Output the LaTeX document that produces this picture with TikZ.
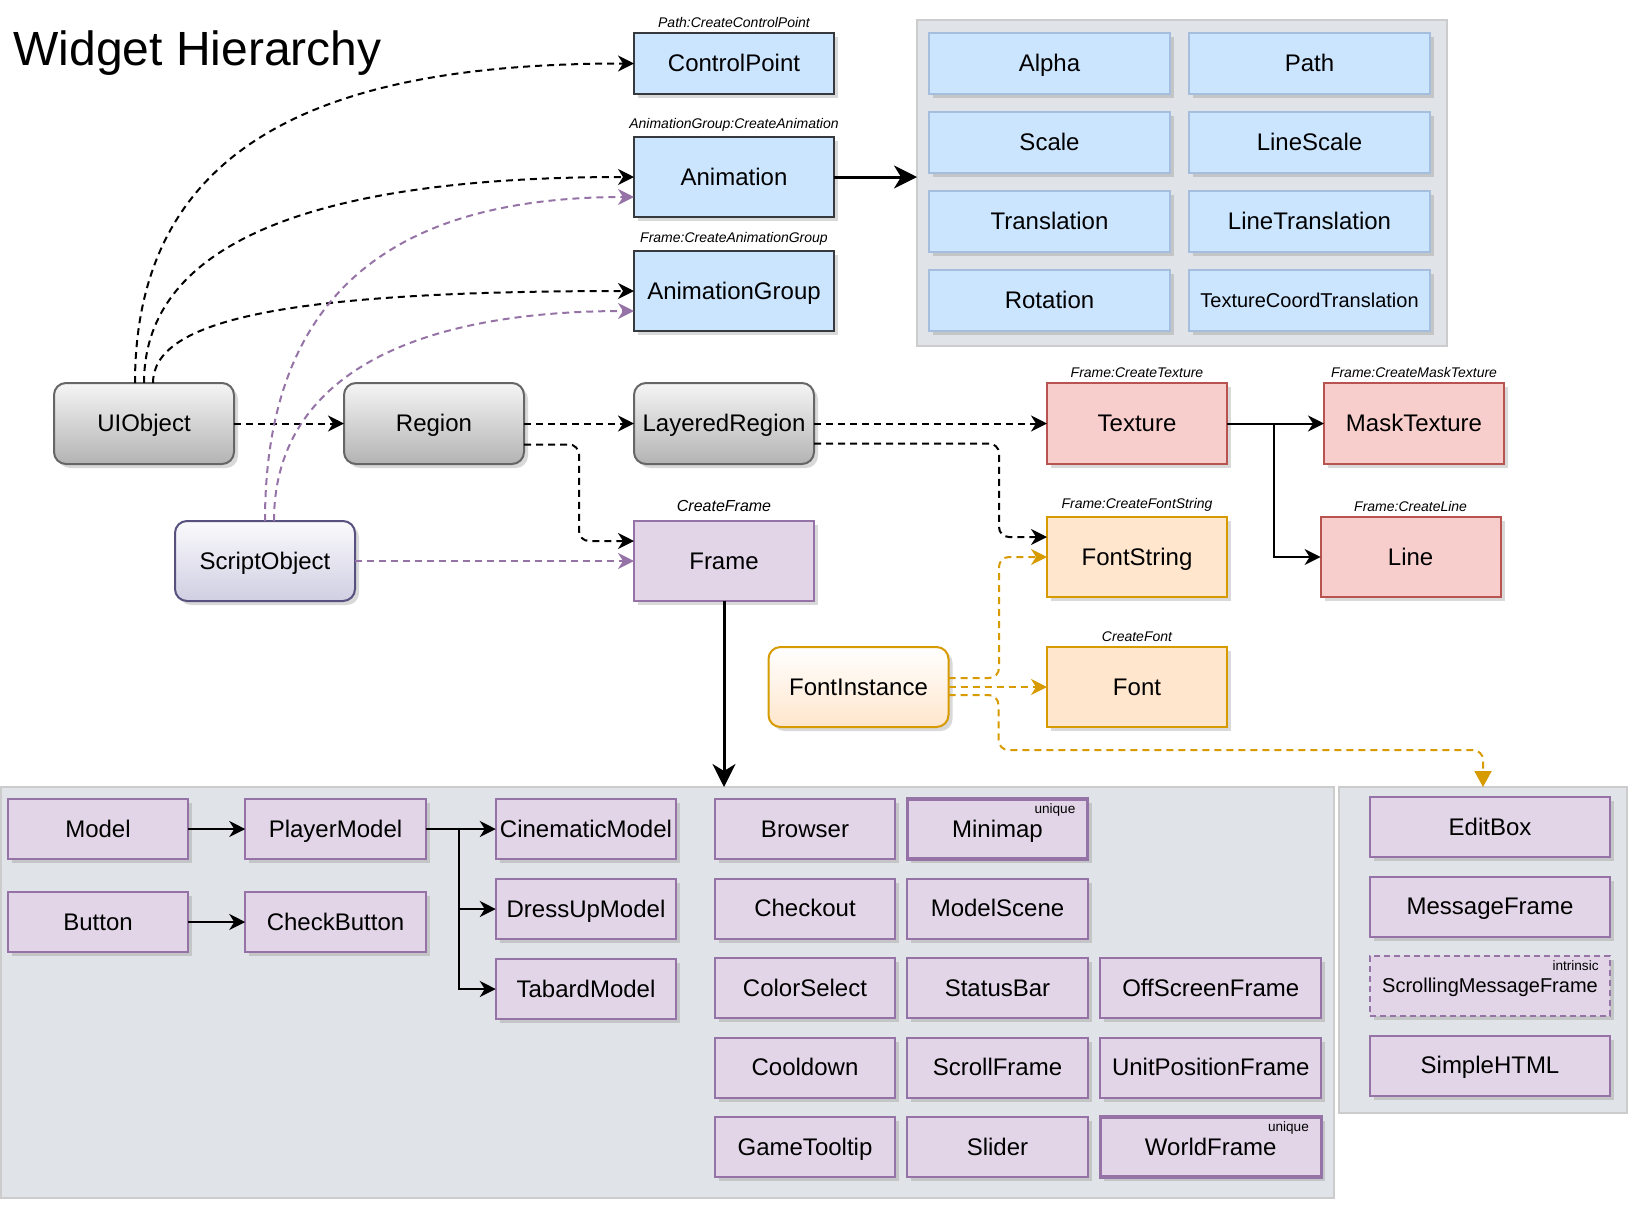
\documentclass[tikz,border=0pt]{standalone}
\usepackage{fontspec}
\setmainfont{Liberation Sans}
\usetikzlibrary{positioning,arrows.meta,shadows}
\definecolor{bluefill}{RGB}{204,229,255}
\definecolor{bluedraw}{RGB}{54,57,61}
\definecolor{lbluedraw}{RGB}{166,190,222}
\definecolor{purfill}{RGB}{225,213,231}
\definecolor{purdraw}{RGB}{150,115,166}
\definecolor{redfill}{RGB}{248,206,204}
\definecolor{reddraw}{RGB}{184,84,80}
\definecolor{orgfill}{RGB}{255,230,204}
\definecolor{orgdraw}{RGB}{215,155,0}
\definecolor{gtop}{RGB}{245,245,245}
\definecolor{gbot}{RGB}{179,179,179}
\definecolor{gdraw}{RGB}{102,102,102}
\definecolor{sotop}{RGB}{250,250,252}
\definecolor{sobot}{RGB}{208,206,226}
\definecolor{sodraw}{RGB}{86,81,126}
\definecolor{panelfill}{RGB}{224,227,231}
\definecolor{paneldraw}{RGB}{204,204,204}

\begin{document}
\begin{tikzpicture}[x=0.5pt,y=-0.5pt,node distance=9.75pt and 6.25pt,inner sep=2pt,label distance=2pt]
\tikzstyle{shd}=[drop shadow={opacity=0.3,shadow xshift=2pt,shadow yshift=-2pt}]
\tikzstyle{main}=[rectangle, line width=1pt, outer sep=0pt, font=\fontsize{12}{14}\selectfont, text height=8.6pt, text depth=0.3pt, shd]
\tikzstyle{cbox}=[main, draw=bluedraw, fill=bluefill, minimum width=100pt, minimum height=40pt]
\tikzstyle{abox}=[main, draw=lbluedraw, fill=bluefill, minimum width=120.5pt, minimum height=30.5pt]
\tikzstyle{gbox}=[main, rounded corners=6pt, draw=gdraw, top color=gtop, bottom color=gbot, minimum width=90pt, minimum height=40.5pt]
\tikzstyle{sbox}=[main, rounded corners=6pt, draw=sodraw, top color=sotop, bottom color=sobot, minimum width=90pt, minimum height=40pt]
\tikzstyle{ibox}=[main, rounded corners=6pt, draw=orgdraw, top color=white, bottom color=orgfill, minimum width=90pt, minimum height=40pt]
\tikzstyle{rbox}=[main, draw=reddraw, fill=redfill, minimum width=90pt, minimum height=40.5pt]
\tikzstyle{obox}=[main, draw=orgdraw, fill=orgfill, minimum width=90pt, minimum height=40pt]
\tikzstyle{pbox}=[main, draw=purdraw, fill=purfill, minimum width=90.25pt, minimum height=30pt]
\tikzstyle{wbox}=[pbox, minimum width=110.5pt]
\tikzstyle{ebox}=[pbox, minimum width=120pt]
\tikzstyle{uniq}=[line width=1.6pt]
\tikzstyle{small}=[font=\fontsize{10}{12}\selectfont, text height=7.2pt, text depth=0.25pt]
\tikzstyle{panel}=[rectangle, draw=paneldraw, fill=panelfill, line width=0.6pt, outer sep=0pt]
\tikzstyle{lbl}=[font=\fontsize{7}{8}\selectfont\itshape, inner sep=0.5pt]
\tikzstyle{tag}=[font=\fontsize{6.8}{8}\selectfont, inner sep=0pt]
\tikzstyle{connect}=[-{Stealth[length=8pt,width=8pt,inset=2.5pt]}, line width=1pt]
\tikzstyle{dsh}=[connect, dash pattern=on 3.5pt off 2.5pt]
\tikzstyle{pdsh}=[dsh, draw=purdraw]
\tikzstyle{odsh}=[dsh, draw=orgdraw]
\tikzstyle{bold}=[-{Stealth[length=11.5pt,width=11.5pt,inset=3.5pt]}, line width=1.5pt]
\useasboundingbox (0,0) rectangle (1650,1222);
\node[font=\fontsize{24}{28}\selectfont, inner sep=0pt, anchor=base west] (ttl) at (13,65) {Widget Hierarchy};
% panels
\node[panel, minimum width=265pt, minimum height=163pt] (tpanel) at (1182,183) {};
\node[panel, minimum width=666.5pt, minimum height=205.5pt, anchor=north west] (lpanel) at (1,787) {};
\node[panel, minimum width=144pt, minimum height=163pt, anchor=north west] (rpanel) at (1339,787) {};
% animation types
\node[abox] (alpha) at (1049.5,63.5) {Alpha};
\node[abox] (pth) [right=9.5pt of alpha] {Path};
\node[abox] (scl) [below=9pt of alpha] {Scale};
\node[abox] (lscl) [right=9.5pt of scl] {LineScale};
\node[abox] (trn) [below=9pt of scl] {Translation};
\node[abox] (ltrn) [right=9.5pt of trn] {LineTranslation};
\node[abox] (rot) [below=9pt of trn] {Rotation};
\node[abox,small] (tct) [right=9.5pt of rot] {TextureCoordTranslation};
% created objects
\node[cbox, minimum height=30.5pt, label={[lbl]above:{Path:CreateControlPoint}}] (cp) at (734,63.5) {ControlPoint};
\node[cbox, label={[lbl]above:{AnimationGroup:CreateAnimation}}] (anim) at (734,177) {Animation};
\node[cbox, label={[lbl]above:{Frame:CreateAnimationGroup}}] (agrp) at (734,291) {AnimationGroup};
% base objects
\node[gbox] (uio) at (144,423.5) {UIObject};
\node[gbox] (reg) [right=55pt of uio] {Region};
\node[gbox] (lreg) [right=55pt of reg] {LayeredRegion};
\node[sbox] (so) at (265,561) {ScriptObject};
\node[pbox, minimum width=90pt, minimum height=40pt, label={[lbl,font=\fontsize{8}{9}\selectfont\itshape,label distance=4pt]above:{CreateFrame}}] (frame) [below=28.5pt of lreg] {Frame};
\node[ibox] (fi) at (858.5,687) {FontInstance};
\node[rbox, label={[lbl]above:{Frame:CreateTexture}}] (tex) at (1137,423.5) {Texture};
\node[rbox, label={[lbl]above:{Frame:CreateMaskTexture}}] (mtex) [right=48.5pt of tex] {MaskTexture};
\node[obox, label={[lbl]above:{Frame:CreateFontString}}] (fstr) [below=26.5pt of tex] {FontString};
\node[rbox, minimum height=40pt, label={[lbl]above:{Frame:CreateLine}}] (ln) [right=46.8pt of fstr] {Line};
\node[obox, label={[lbl]above:{CreateFont}}] (fnt) [below=25pt of fstr] {Font};
% frame types
\node[pbox] (model) at (98,829) {Model};
\node[pbox] (pmodel) [right=28.5pt of model] {PlayerModel};
\node[pbox] (cmodel) [right=35pt of pmodel] {CinematicModel};
\node[pbox] (dmodel) [below=10pt of cmodel] {DressUpModel};
\node[pbox] (tmodel) [below=10pt of dmodel] {TabardModel};
\node[pbox] (button) [below=16.5pt of model] {Button};
\node[pbox] (cbutton) [right=28.5pt of button] {CheckButton};
\node[pbox] (browser) at (805,829) {Browser};
\node[pbox,uniq] (minimap) [right=6pt of browser] {Minimap};
\node[pbox] (checkout) [below=of browser] {Checkout};
\node[pbox] (mscene) [below=of minimap] {ModelScene};
\node[pbox] (csel) [below=of checkout] {ColorSelect};
\node[pbox] (sbar) [below=of mscene] {StatusBar};
\node[wbox] (offs) [right=of sbar] {OffScreenFrame};
\node[pbox] (cool) [below=of csel] {Cooldown};
\node[pbox] (sframe) [below=of sbar] {ScrollFrame};
\node[wbox] (upf) [below=of offs] {UnitPositionFrame};
\node[pbox] (gtt) [below=of cool] {GameTooltip};
\node[pbox] (slider) [below=of sframe] {Slider};
\node[wbox,uniq] (wf) [below=of upf] {WorldFrame};
\node[tag, anchor=north east] (utag1) at ([xshift=-6pt,yshift=-2pt]minimap.north east) {unique};
\node[tag, anchor=north east] (utag2) at ([xshift=-6pt,yshift=-2pt]wf.north east) {unique};
\node[ebox] (ebx) at (1490,827) {EditBox};
\node[ebox] (mframe) [below=of ebx] {MessageFrame};
\node[ebox,small,dash pattern=on 3pt off 2pt] (smf) [below=of mframe] {ScrollingMessageFrame};
\node[ebox] (shtml) [below=of smf] {SimpleHTML};
\node[tag, anchor=north east] (itag) at ([xshift=-5.5pt,yshift=-2pt]smf.north east) {intrinsic};
% inheritance
\path (uio) edge[dsh] (reg);
\path (reg) edge[dsh] (lreg);
\path (lreg) edge[dsh] (tex);
\path (so) edge[pdsh] (frame);
\path (fi) edge[odsh] (fnt);
\path (tex) edge[connect] (mtex);
\path (model) edge[connect] (pmodel);
\path (button) edge[connect] (cbutton);
\path (pmodel) edge[connect] (cmodel);
\path (anim) edge[bold] (anim -| tpanel.west);
\path (frame) edge[bold] (frame |- lpanel.north);
\draw[dsh] ([xshift=-4.5pt]uio.north) .. controls +(0,-265) and +(-265,0) .. (cp.west);
\draw[dsh] (uio.north) .. controls +(0,-127) and +(-350,0) .. (anim.west);
\draw[dsh] ([xshift=4.5pt]uio.north) .. controls +(0,-63) and +(-350,0) .. (agrp.west);
\draw[pdsh] (so.north) .. controls +(0,-243) and +(-222,0) .. ([yshift=-10pt]anim.west);
\draw[pdsh] ([xshift=4.5pt]so.north) .. controls +(0,-138) and +(-233,0) .. ([yshift=-10pt]agrp.west);
\draw[dsh, rounded corners=5pt] ([yshift=-10pt]lreg.east) -| ([xshift=-24pt,yshift=10pt]fstr.west) -- ([yshift=10pt]fstr.west);
\draw[dsh, rounded corners=5pt] ([yshift=-10.5pt]reg.east) -| ([xshift=-27.5pt,yshift=10pt]frame.west) -- ([yshift=10pt]frame.west);
\draw[odsh, rounded corners=5pt] ([yshift=4.5pt]fi.east) -| ([xshift=-24pt]fstr.west) -- (fstr.west);
\coordinate (fbend) at (998.5,750);
\draw[odsh, rounded corners=5pt, -{Triangle[length=8pt,width=8.5pt]}] ([yshift=-4pt]fi.east) -| (fbend) -| (rpanel.north);
\draw[connect] (tex.east) -| ([xshift=-23.5pt]ln.west) -- (ln.west);
\draw[connect] (pmodel.east) -| ([xshift=-18.5pt]dmodel.west) -- (dmodel.west);
\draw[connect] (pmodel.east) -| ([xshift=-18.5pt]tmodel.west) -- (tmodel.west);
\end{tikzpicture}
\end{document}
